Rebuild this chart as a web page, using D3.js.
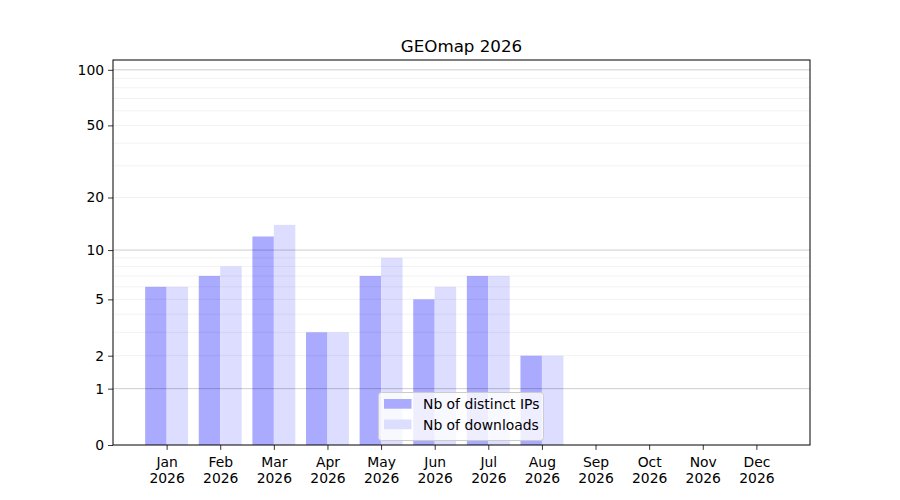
<!DOCTYPE html>
<html><head><meta charset="utf-8">
<script src="https://cdn.jsdelivr.net/npm/d3@7"></script>
<style>body{margin:0;background:#fff}svg{display:block}text{font-family:"DejaVu Sans",sans-serif}</style>
</head><body>
<svg id="c" width="900" height="500"></svg>
<script>
const months = ["Jan","Feb","Mar","Apr","May","Jun","Jul","Aug","Sep","Oct","Nov","Dec"];
const year = "2026";
const distinctIPs = [6,7,12,3,7,5,7,2,0,0,0,0];
const downloads = [6,8,14,3,9,6,7,2,0,0,0,0];
const yTicks = [0,1,2,5,10,20,50,100];
const majorGrid = [1,10,100];
const minorGrid = [2,3,4,5,6,7,8,9,20,30,40,50,60,70,80,90];
const yMax = 113;
const title = "GEOmap 2026";
const seriesNames = ["Nb of distinct IPs","Nb of downloads"];
const colors = ["#aaaaff","#ddddff"];

const svg = d3.select("#c");
const L=113,R=810,T=60,B=445;
const x = d3.scaleLinear().domain([-1,12]).range([L,R]);
const y = d3.scaleSymlog().constant(1).domain([0,yMax]).range([B,T]);
const w = 0.4;

// bars
const g = svg.append("g");
g.selectAll(".b1").data(distinctIPs).join("rect")
  .attr("x",(d,i)=>x(i-w)).attr("width",(d,i)=>x(i)-x(i-w))
  .attr("y",d=>y(d)).attr("height",d=>B-y(d)).attr("fill",colors[0]);
g.selectAll(".b2").data(downloads).join("rect")
  .attr("x",(d,i)=>x(i)).attr("width",(d,i)=>x(i+w)-x(i))
  .attr("y",d=>y(d)).attr("height",d=>B-y(d)).attr("fill",colors[1]);

// grid
svg.append("g").selectAll("line").data(minorGrid).join("line")
  .attr("x1",L).attr("x2",R).attr("y1",d=>y(d)).attr("y2",d=>y(d))
  .attr("stroke","#000").attr("stroke-opacity",0.07).attr("stroke-width",0.8);
svg.append("g").selectAll("line").data(majorGrid).join("line")
  .attr("x1",L).attr("x2",R).attr("y1",d=>y(d)).attr("y2",d=>y(d))
  .attr("stroke","#000").attr("stroke-opacity",0.2).attr("stroke-width",1);

// axes
const yAxis = d3.axisLeft(y).tickValues(yTicks).tickFormat(d3.format("d")).tickSize(4.9).tickPadding(4);
const ya = svg.append("g").attr("transform",`translate(${L},0)`).call(yAxis);
const xAxis = d3.axisBottom(x).tickValues(d3.range(12)).tickFormat(()=>"").tickSize(4.9);
const xa = svg.append("g").attr("transform",`translate(0,${B})`).call(xAxis);
[ya,xa].forEach(a=>{a.select(".domain").remove();a.selectAll("line").attr("stroke","#000").attr("stroke-width",0.8);
  a.selectAll("text").attr("font-size","13.9px").attr("fill","#000").attr("font-family","DejaVu Sans");});
xa.selectAll(".tick").each(function(d){
  const t=d3.select(this).append("text").attr("text-anchor","middle").attr("font-size","13.9px").attr("fill","#000");
  t.append("tspan").attr("x",0).attr("y",22).text(months[d]);
  t.append("tspan").attr("x",0).attr("y",38).text(year);
});

// frame
svg.append("rect").attr("x",L).attr("y",T).attr("width",R-L).attr("height",B-T)
  .attr("fill","none").attr("stroke","#000").attr("stroke-width",1);

// title
svg.append("text").attr("x",(L+R)/2).attr("y",52).attr("text-anchor","middle")
  .attr("font-size","16.7px").text(title);

// legend
const lg = svg.append("g");
lg.append("rect").attr("x",378.5).attr("y",392.5).attr("width",165).attr("height",48).attr("rx",3)
  .attr("fill","#fff").attr("fill-opacity",0.8).attr("stroke","#ccc").attr("stroke-width",1);
seriesNames.forEach((n,i)=>{
  const cy = 404 + i*20.5;
  lg.append("rect").attr("x",384).attr("y",cy-5).attr("width",27.5).attr("height",9.7).attr("fill",colors[i]);
  lg.append("text").attr("x",423).attr("y",cy+5).attr("font-size","13.9px").text(n);
});
</script>
</body></html>
